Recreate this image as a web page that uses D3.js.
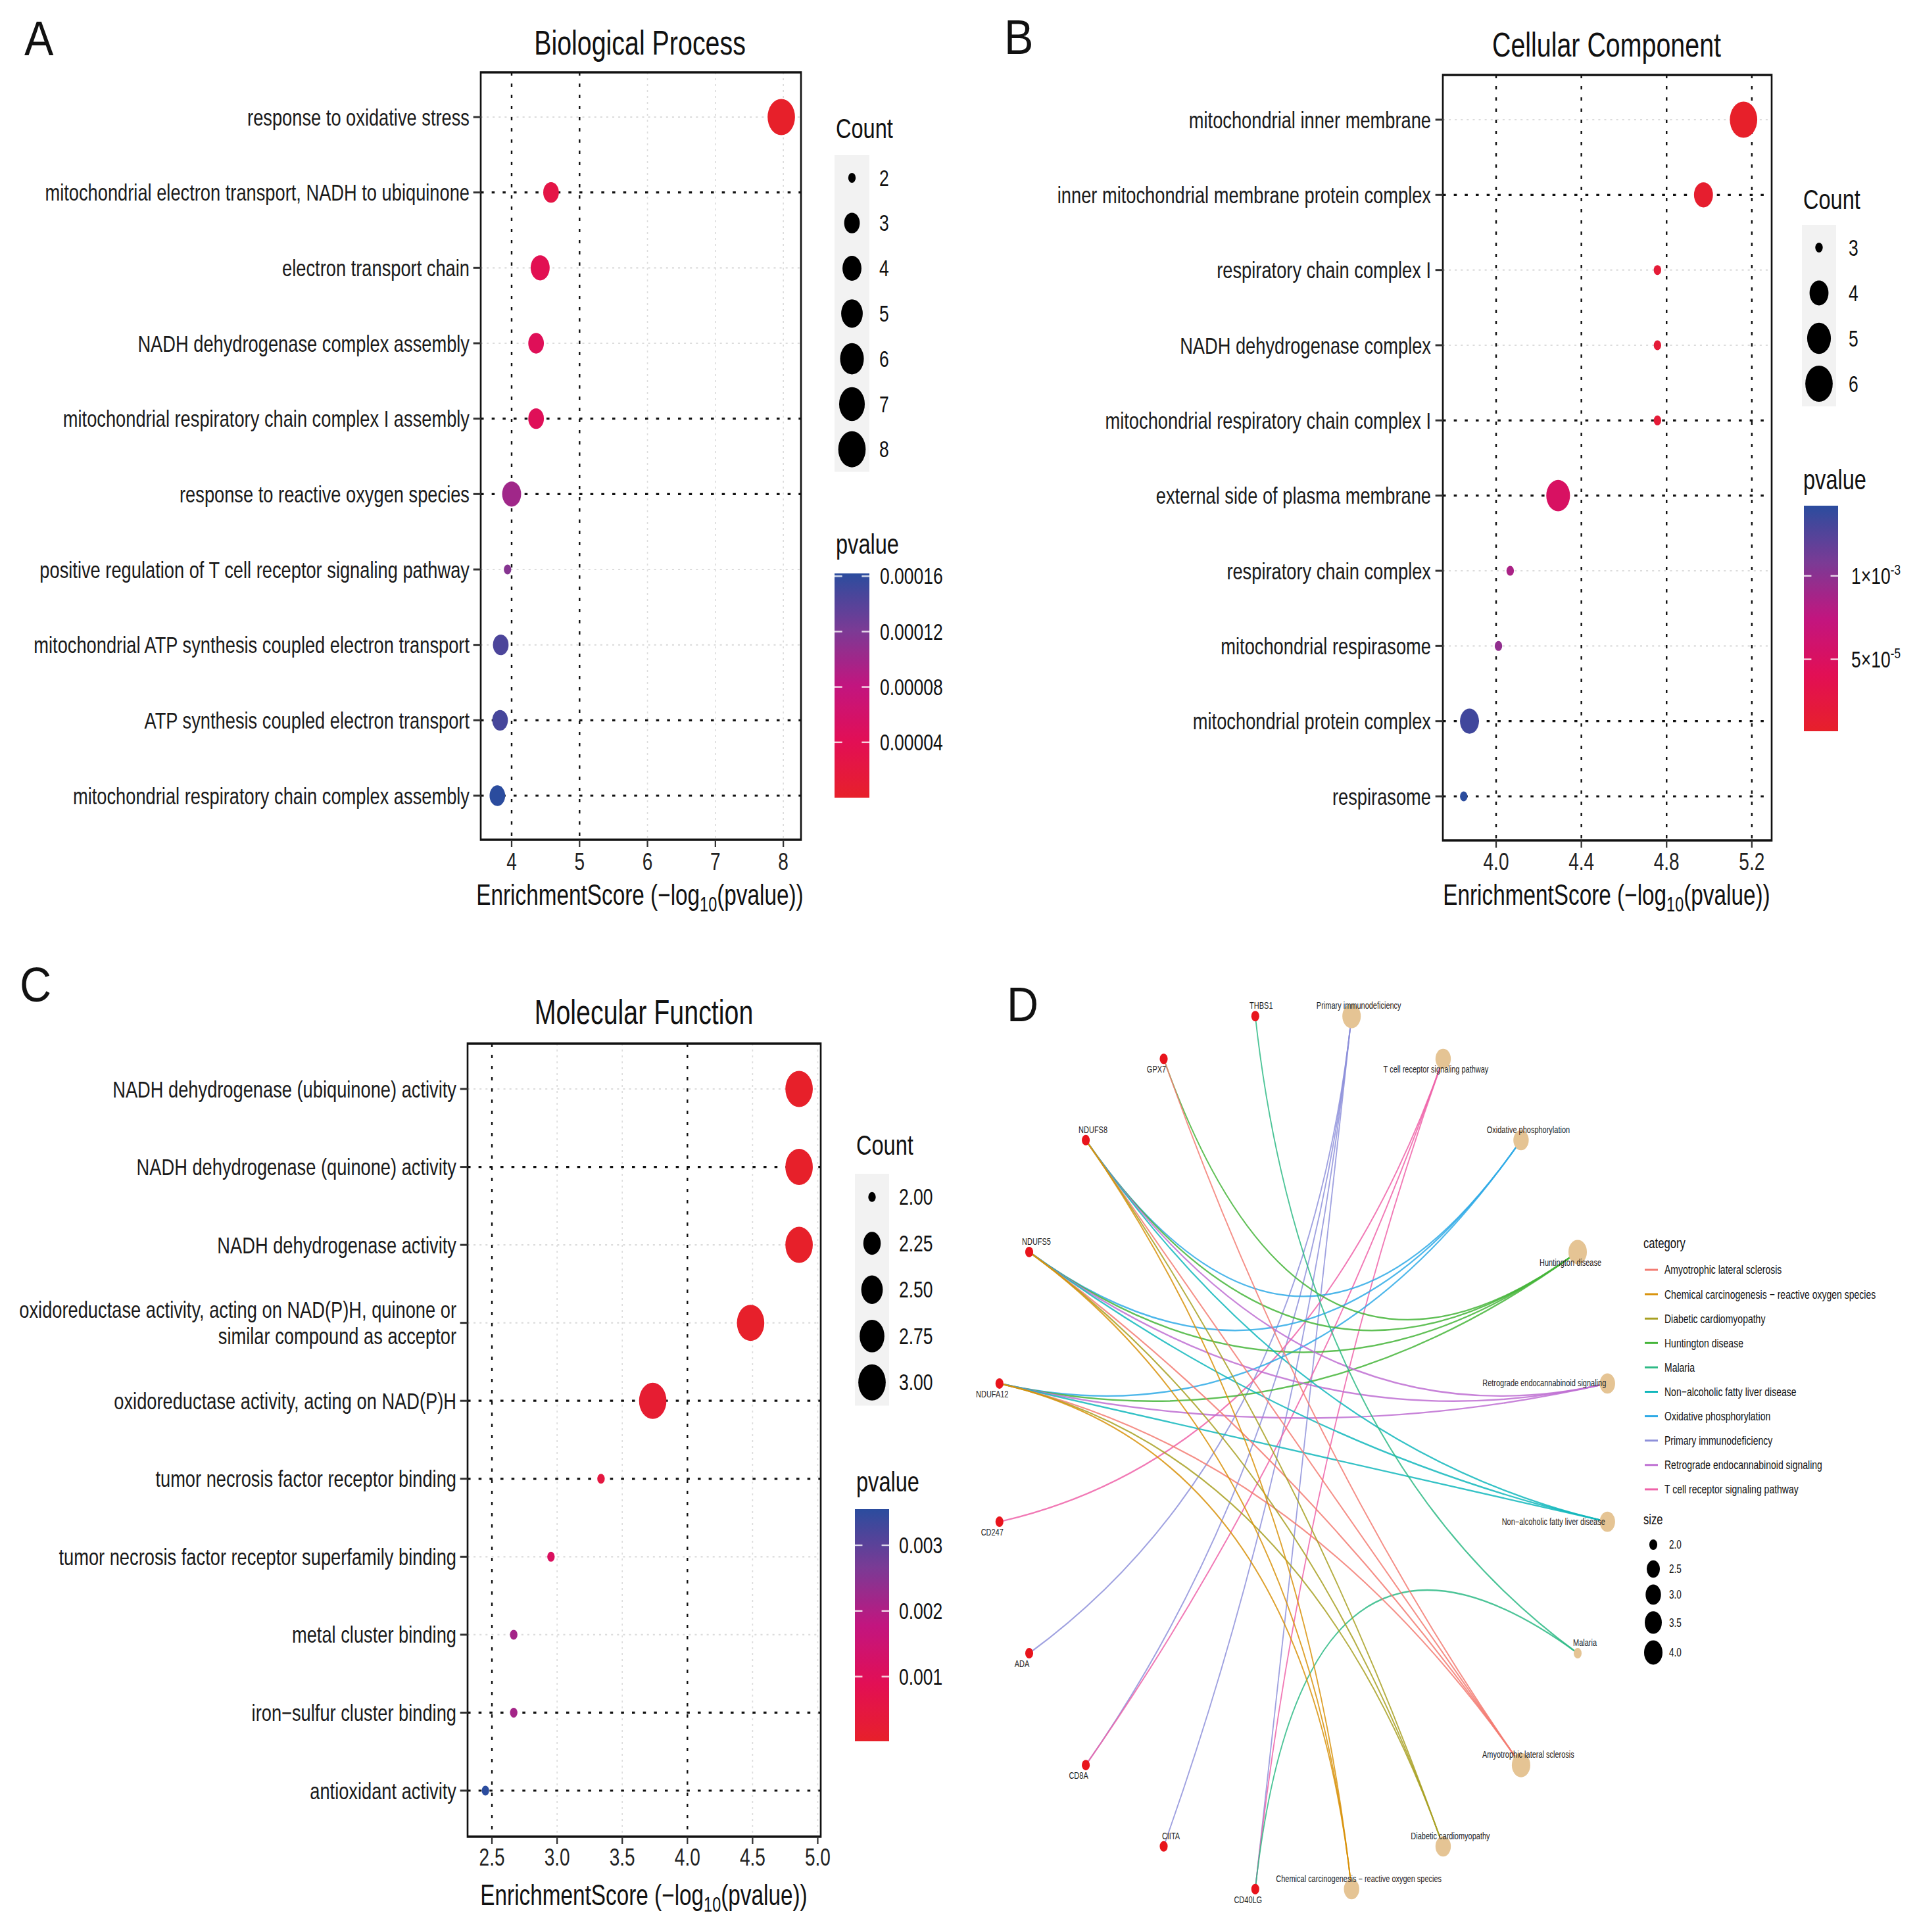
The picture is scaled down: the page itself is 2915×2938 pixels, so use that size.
<!DOCTYPE html>
<html><head><meta charset="utf-8">
<script src="https://cdn.jsdelivr.net/npm/d3@7"></script>
<style>html,body{margin:0;padding:0;background:#fff;} svg{display:block;}</style>
</head><body><div id="chart"></div>
<script>
// ---------------- DATA ----------------
const bpTerms = ["response to oxidative stress","mitochondrial electron transport, NADH to ubiquinone","electron transport chain","NADH dehydrogenase complex assembly","mitochondrial respiratory chain complex I assembly","response to reactive oxygen species","positive regulation of T cell receptor signaling pathway","mitochondrial ATP synthesis coupled electron transport","ATP synthesis coupled electron transport","mitochondrial respiratory chain complex assembly"];
const bpScore  = [7.97, 4.58, 4.42, 4.36, 4.36, 4.00, 3.94, 3.84, 3.83, 3.79];
const bpPvalue = [1.07e-8, 2.63e-5, 3.80e-5, 4.37e-5, 4.37e-5, 1.00e-4, 1.15e-4, 1.45e-4, 1.48e-4, 1.62e-4];
const bpCount  = [8, 3, 4, 3, 3, 4, 2, 3, 3, 3];
const bpXTicks = [4, 5, 6, 7, 8];
const bpCountBreaks = [2, 3, 4, 5, 6, 7, 8];
const bpPTicks = [0.00004, 0.00008, 0.00012, 0.00016];
const bpPLabels = ["0.00004", "0.00008", "0.00012", "0.00016"];

const ccTerms = ["mitochondrial inner membrane","inner mitochondrial membrane protein complex","respiratory chain complex I","NADH dehydrogenase complex","mitochondrial respiratory chain complex I","external side of plasma membrane","respiratory chain complex","mitochondrial respirasome","mitochondrial protein complex","respirasome"];
const ccScore  = [5.161, 4.973, 4.757, 4.757, 4.757, 4.291, 4.066, 4.011, 3.875, 3.848];
const ccPvalue = [6.9e-6, 1.06e-5, 1.75e-5, 1.75e-5, 1.75e-5, 5.12e-5, 8.59e-5, 9.75e-5, 1.33e-4, 1.42e-4];
const ccCount  = [6, 4, 3, 3, 3, 5, 3, 3, 4, 3];
const ccXTicks = [4.0, 4.4, 4.8, 5.2];
const ccCountBreaks = [3, 4, 5, 6];
const ccPTicks = [5e-5, 1e-4];
const ccPLabels = ["5×10^-5", "1×10^-3"];

const mfTerms = ["NADH dehydrogenase (ubiquinone) activity","NADH dehydrogenase (quinone) activity","NADH dehydrogenase activity","oxidoreductase activity, acting on NAD(P)H, quinone or\nsimilar compound as acceptor","oxidoreductase activity, acting on NAD(P)H","tumor necrosis factor receptor binding","tumor necrosis factor receptor superfamily binding","metal cluster binding","iron\u2212sulfur cluster binding","antioxidant activity"];
const mfScore  = [4.857, 4.857, 4.857, 4.485, 3.734, 3.337, 2.953, 2.667, 2.667, 2.450];
const mfPvalue = [1.39e-5, 1.39e-5, 1.39e-5, 3.27e-5, 1.85e-4, 4.60e-4, 1.11e-3, 2.15e-3, 2.15e-3, 3.55e-3];
const mfCount  = [3, 3, 3, 3, 3, 2, 2, 2, 2, 2];
const mfXTicks = [2.5, 3.0, 3.5, 4.0, 4.5, 5.0];
const mfCountBreaks = [2.00, 2.25, 2.50, 2.75, 3.00];
const mfPTicks = [0.001, 0.002, 0.003];
const mfPLabels = ["0.001", "0.002", "0.003"];

// network (panel D)
const pathways = ["Primary immunodeficiency","T cell receptor signaling pathway","Oxidative phosphorylation","Huntington disease","Retrograde endocannabinoid signaling","Non\u2212alcoholic fatty liver disease","Malaria","Amyotrophic lateral sclerosis","Diabetic cardiomyopathy","Chemical carcinogenesis \u2212 reactive oxygen species"];
const genes = ["CD40LG","CIITA","CD8A","ADA","CD247","NDUFA12","NDUFS5","NDUFS8","GPX7","THBS1"];
const pathwayGenes = [
  ["ADA","CD8A","CIITA","CD40LG"],
  ["CD247","CD8A","CD40LG"],
  ["NDUFS8","NDUFS5","NDUFA12"],
  ["NDUFS8","NDUFS5","NDUFA12","GPX7"],
  ["NDUFS8","NDUFS5","NDUFA12"],
  ["NDUFS8","NDUFS5","NDUFA12"],
  ["THBS1","CD40LG"],
  ["NDUFS8","NDUFS5","NDUFA12","GPX7"],
  ["NDUFS8","NDUFS5","NDUFA12"],
  ["NDUFS8","NDUFS5","NDUFA12"]
];
const legendCategories = ["Amyotrophic lateral sclerosis","Chemical carcinogenesis \u2212 reactive oxygen species","Diabetic cardiomyopathy","Huntington disease","Malaria","Non\u2212alcoholic fatty liver disease","Oxidative phosphorylation","Primary immunodeficiency","Retrograde endocannabinoid signaling","T cell receptor signaling pathway"];
const sizeBreaks = [2.0, 2.5, 3.0, 3.5, 4.0];

// ---------------- STYLE / LAYOUT ----------------
const W = 2915, H = 2938, K = 1.32;
const X = v => v * K;
const FONT = "'Liberation Sans', Arial, Helvetica, sans-serif";
const pInterp = d3.piecewise(d3.interpolateRgb, ["#E7202A", "#E20F55", "#C2157F", "#7A3B95", "#2B4C9E"]);
const hue = ["#F37B72","#D8920A","#A8A022","#45B53A","#2DBA85","#12B7BC","#2FAAE6","#8E90DA","#BE6FD2","#EE62A8"];
const catColor = d3.scaleOrdinal().domain(legendCategories).range(hue);
const D_MIN = 15, D_MAX = 55;

const svg = d3.select("#chart").append("svg")
  .attr("width", W).attr("height", H)
  .attr("viewBox", `0 0 ${W * K} ${H}`)
  .attr("preserveAspectRatio", "none")
  .style("font-family", FONT);
svg.append("rect").attr("width", W * K).attr("height", H).attr("fill", "#fff");
const defs = svg.append("defs");

function panelLetter(t, x, y) {
  svg.append("text").text(t)
    .attr("transform", `translate(${X(x)},${y}) scale(${K * 0.9},1)`)
    .attr("font-size", 74).attr("fill", "#111");
}

function addLabelWithSup(sel, str) {
  const parts = str.split("^");
  sel.append("tspan").text(parts[0]);
  if (parts[1]) sel.append("tspan").text(parts[1]).attr("font-size", "65%").attr("dy", "-0.6em");
}

let gradId = 0;
function dotPanel(o) {
  const g = svg.append("g");
  const [bx0, bx1, by0, by1] = o.box;
  const x = d3.scaleLinear().domain(o.xDomain).range([X(bx0), X(bx1)]);
  const y = d3.scalePoint().domain(o.terms).range([o.rows[0], o.rows[1]]);
  const pmin = d3.min(o.pvalue), pmax = d3.max(o.pvalue);
  const color = d3.scaleSequential(pInterp).domain([pmin, pmax]);
  const cmin = d3.min(o.count), cmax = d3.max(o.count);
  const dsc = d3.scaleSqrt().domain([0, cmax - cmin]).range([0, D_MAX - D_MIN]);
  const dia = c => D_MIN + dsc(c - cmin);

  const isDarkV = t => o.darkTicks.includes(t);
  const isDarkH = i => o.darkRows.includes(i);
  const drawV = (dark) => g.append("g").selectAll("line").data(o.xTicks.filter(t => isDarkV(t) === dark)).join("line")
    .attr("x1", d => x(d)).attr("x2", d => x(d)).attr("y1", by0).attr("y2", by1)
    .attr("stroke", dark ? "#111" : "#DCDCDC").attr("stroke-width", dark ? 3.2 : 2.2)
    .attr("stroke-dasharray", dark ? "5,12" : "3,6");
  const drawH = (dark) => g.append("g").selectAll("line").data(o.terms.filter((t, i) => isDarkH(i) === dark)).join("line")
    .attr("x1", X(bx0)).attr("x2", X(bx1)).attr("y1", d => y(d)).attr("y2", d => y(d))
    .attr("stroke", dark ? "#111" : "#DCDCDC").attr("stroke-width", dark ? 3.2 : 2.2)
    .attr("stroke-dasharray", dark ? "6,16" : "4,8");
  drawV(false); drawH(false); drawV(true); drawH(true);

  g.append("g").selectAll("circle").data(o.terms).join("circle")
    .attr("cx", (d, i) => x(o.score[i])).attr("cy", d => y(d))
    .attr("r", (d, i) => dia(o.count[i]) / 2)
    .attr("fill", (d, i) => color(o.pvalue[i]));

  g.append("rect").attr("x", X(bx0)).attr("y", by0).attr("width", X(bx1) - X(bx0)).attr("height", by1 - by0)
    .attr("fill", "none").attr("stroke", "#111").attr("stroke-width", 3.5);

  g.append("g").selectAll("line").data(o.terms).join("line")
    .attr("x1", X(bx0) - 15).attr("x2", X(bx0)).attr("y1", d => y(d)).attr("y2", d => y(d))
    .attr("stroke", "#333").attr("stroke-width", 3);
  const lab = g.append("g").selectAll("text").data(o.terms).join("text")
    .attr("x", X(o.labelX)).attr("y", d => y(d))
    .attr("text-anchor", "end").attr("font-size", 36).attr("fill", "#1a1a1a");
  lab.each(function (d) {
    const lines = d.split("\n");
    const t = d3.select(this);
    lines.forEach((ln, j) => {
      t.append("tspan").attr("x", X(o.labelX))
        .attr("dy", j === 0 ? `${0.35 - (lines.length - 1) * 0.55}em` : "1.1em").text(ln);
    });
  });

  g.append("g").selectAll("line").data(o.xTicks).join("line")
    .attr("x1", d => x(d)).attr("x2", d => x(d)).attr("y1", by1).attr("y2", by1 + 11)
    .attr("stroke", "#333").attr("stroke-width", 3);
  g.append("g").selectAll("text").data(o.xTicks).join("text")
    .attr("x", d => x(d)).attr("y", o.tickY).attr("dy", "0.35em")
    .attr("text-anchor", "middle").attr("font-size", 37).attr("fill", "#222")
    .text(d => o.tickFmt(d));

  g.append("text").attr("x", X(o.titleX)).attr("y", o.titleY).attr("text-anchor", "middle")
    .attr("font-size", 52).attr("fill", "#111").text(o.title);
  const at = g.append("text").attr("x", X(o.titleX)).attr("y", o.axisTitleY).attr("text-anchor", "middle")
    .attr("font-size", 44).attr("fill", "#111");
  at.append("tspan").text("EnrichmentScore (\u2212log");
  at.append("tspan").text("10").attr("font-size", 31).attr("dy", 10);
  at.append("tspan").text("(pvalue))").attr("dy", -10);

  const L = o.legend;
  g.append("text").attr("x", X(L.x0 + 2)).attr("y", L.countTitleY).attr("font-size", 43).attr("fill", "#111").text("Count");
  const nK = o.countBreaks.length;
  g.append("rect").attr("x", X(L.x0)).attr("y", L.keyTop).attr("width", X(L.x1) - X(L.x0)).attr("height", L.keyH * nK)
    .attr("fill", "#F2F2F2");
  const ldsc = d3.scaleSqrt().domain([0, d3.max(o.countBreaks) - d3.min(o.countBreaks)]).range([0, D_MAX - D_MIN]);
  g.append("g").selectAll("circle").data(o.countBreaks).join("circle")
    .attr("cx", (X(L.x0) + X(L.x1)) / 2).attr("cy", (d, i) => L.keyTop + L.keyH * (i + 0.5))
    .attr("r", d => (D_MIN + ldsc(d - d3.min(o.countBreaks))) / 2).attr("fill", "#000");
  g.append("g").selectAll("text").data(o.countBreaks).join("text")
    .attr("x", X(L.labX)).attr("y", (d, i) => L.keyTop + L.keyH * (i + 0.5)).attr("dy", "0.35em")
    .attr("font-size", 35).attr("fill", "#111").text(d => o.countFmt(d));

  g.append("text").attr("x", X(L.x0 + 2)).attr("y", L.pTitleY).attr("font-size", 43).attr("fill", "#111").text("pvalue");
  const id = "grad" + (gradId++);
  const lg = defs.append("linearGradient").attr("id", id).attr("x1", 0).attr("x2", 0).attr("y1", 1).attr("y2", 0);
  d3.range(0, 1.0001, 0.05).forEach(t => lg.append("stop").attr("offset", t).attr("stop-color", pInterp(t)));
  const by = d3.scaleLinear().domain([pmin, pmax]).range(L.barY);
  g.append("rect").attr("x", X(L.bx0)).attr("y", L.barY[1]).attr("width", X(L.bx1) - X(L.bx0))
    .attr("height", L.barY[0] - L.barY[1]).attr("fill", `url(#${id})`);
  const bw = X(L.bx1) - X(L.bx0);
  o.pTicks.forEach((p, i) => {
    const yy = by(p);
    g.append("line").attr("x1", X(L.bx0)).attr("x2", X(L.bx0) + bw * 0.22).attr("y1", yy).attr("y2", yy)
      .attr("stroke", "#fff").attr("stroke-opacity", 0.8).attr("stroke-width", 2.5);
    g.append("line").attr("x1", X(L.bx1) - bw * 0.22).attr("x2", X(L.bx1)).attr("y1", yy).attr("y2", yy)
      .attr("stroke", "#fff").attr("stroke-opacity", 0.8).attr("stroke-width", 2.5);
    const t = g.append("text").attr("x", X(L.pLabX)).attr("y", yy).attr("dy", "0.35em")
      .attr("font-size", 35).attr("fill", "#111");
    addLabelWithSup(t, o.pLabels[i]);
  });
}

panelLetter("A", 37, 84);
dotPanel({
  terms: bpTerms, score: bpScore, pvalue: bpPvalue, count: bpCount,
  xTicks: bpXTicks, xDomain: [3.545, 8.26], tickFmt: d3.format("d"),
  box: [731, 1218, 110, 1277], rows: [178, 1210], labelX: 714, tickY: 1310,
  darkTicks: [4, 5], darkRows: [1, 4, 5, 8, 9],
  title: "Biological Process", titleX: 973, titleY: 83, axisTitleY: 1376,
  countBreaks: bpCountBreaks, countFmt: d3.format("d"),
  pTicks: bpPTicks, pLabels: bpPLabels,
  legend: { x0: 1269, x1: 1322, labX: 1337, countTitleY: 210, keyTop: 236, keyH: 68.8,
            pTitleY: 842, bx0: 1269, bx1: 1322, barY: [1213, 872], pLabX: 1338 }
});

panelLetter("B", 1527, 82);
dotPanel({
  terms: ccTerms, score: ccScore, pvalue: ccPvalue, count: ccCount,
  xTicks: ccXTicks, xDomain: [3.75, 5.293], tickFmt: d3.format(".1f"),
  box: [2194, 2694, 114, 1278], rows: [182, 1211], labelX: 2176, tickY: 1310,
  darkTicks: [4.0, 4.4, 4.8, 5.2], darkRows: [1, 4, 5, 8, 9],
  title: "Cellular Component", titleX: 2443, titleY: 86, axisTitleY: 1376,
  countBreaks: ccCountBreaks, countFmt: d3.format("d"),
  pTicks: ccPTicks, pLabels: ccPLabels,
  legend: { x0: 2740, x1: 2792, labX: 2811, countTitleY: 318, keyTop: 342, keyH: 69,
            pTitleY: 744, bx0: 2743, bx1: 2795, barY: [1112, 769], pLabX: 2815 }
});

panelLetter("C", 30, 1523);
dotPanel({
  terms: mfTerms, score: mfScore, pvalue: mfPvalue, count: mfCount,
  xTicks: mfXTicks, xDomain: [2.313, 5.023], tickFmt: d3.format(".1f"),
  box: [711, 1248, 1587, 2793], rows: [1656, 2723], labelX: 694, tickY: 2824,
  darkTicks: [2.5, 4.0], darkRows: [1, 4, 5, 8, 9],
  title: "Molecular Function", titleX: 979, titleY: 1557, axisTitleY: 2897,
  countBreaks: mfCountBreaks, countFmt: d3.format(".2f"),
  pTicks: mfPTicks, pLabels: mfPLabels,
  legend: { x0: 1300, x1: 1352, labX: 1367, countTitleY: 1756, keyTop: 1785, keyH: 70.5,
            pTitleY: 2268, bx0: 1300, bx1: 1352, barY: [2648, 2295], pLabX: 1367 }
});

// ---------------- Panel D: network ----------------
panelLetter("D", 1531, 1553);
(function () {
  const g = svg.append("g");
  const cx = X(1982), cy = 2209, rx = X(468), ry = 672;
  const nodes = pathways.map((p, i) => ({ name: p, type: "cat", size: pathwayGenes[i].length }))
    .concat(genes.map(gn => ({ name: gn, type: "gene" })));
  const ang = d3.scaleLinear().domain([0, nodes.length]).range([0, 2 * Math.PI]);
  nodes.forEach((n, i) => { const a = ang(i + 0.5); n.x = cx + rx * Math.sin(a); n.y = cy - ry * Math.cos(a); });
  const byName = new Map(nodes.map(n => [n.name, n]));
  const edges = [];
  pathways.forEach((p, i) => pathwayGenes[i].forEach(gn => edges.push({ cat: p, s: byName.get(p), t: byName.get(gn) })));

  g.append("g").selectAll("path").data(edges).join("path")
    .attr("d", e => { const pth = d3.path(); pth.moveTo(e.t.x, e.t.y); pth.quadraticCurveTo(cx, cy, e.s.x, e.s.y); return pth.toString(); })
    .attr("fill", "none").attr("stroke", e => catColor(e.cat)).attr("stroke-opacity", 0.85).attr("stroke-width", 2.4);

  const ns = d3.scaleSqrt().domain([0, 2]).range([0, 21]);
  const nd = s => 16 + ns(s - 2);
  g.append("g").selectAll("circle").data(nodes).join("circle")
    .attr("cx", n => n.x).attr("cy", n => n.y)
    .attr("r", n => n.type === "gene" ? 8 : nd(n.size) / 2)
    .attr("fill", n => n.type === "gene" ? "#E8141C" : "#E5C494");

  const labelOffset = {
    "THBS1": [9, -16], "GPX7": [-11, 16], "NDUFS8": [11, -16], "NDUFS5": [11, -16], "NDUFA12": [-11, 16],
    "CD247": [-11, 16], "ADA": [-11, 16], "CD8A": [-11, 16], "CIITA": [11, -16], "CD40LG": [-11, 16],
    "Primary immunodeficiency": [11, -16], "T cell receptor signaling pathway": [-11, 16],
    "Oxidative phosphorylation": [11, -16], "Huntington disease": [-11, 16],
    "Retrograde endocannabinoid signaling": [-96, -1], "Non\u2212alcoholic fatty liver disease": [-82, 0],
    "Malaria": [11, -16], "Amyotrophic lateral sclerosis": [11, -16], "Diabetic cardiomyopathy": [11, -16],
    "Chemical carcinogenesis \u2212 reactive oxygen species": [11, -16]
  };
  g.append("g").selectAll("text").data(nodes).join("text")
    .attr("x", n => n.x + X(labelOffset[n.name][0])).attr("y", n => n.y + labelOffset[n.name][1])
    .attr("dy", "0.35em").attr("text-anchor", "middle").attr("font-size", 14.5).attr("fill", "#222")
    .text(n => n.name);

  const lx0 = 2501, lx1 = 2521, ltx = 2531;
  g.append("text").attr("x", X(2499)).attr("y", 1898).attr("font-size", 22).attr("fill", "#111").text("category");
  const ly = d3.scaleLinear().domain([0, 1]).range([1931, 1931 + 37.1]);
  g.append("g").selectAll("line").data(legendCategories).join("line")
    .attr("x1", X(lx0)).attr("x2", X(lx1)).attr("y1", (d, i) => ly(i)).attr("y2", (d, i) => ly(i))
    .attr("stroke", d => catColor(d)).attr("stroke-width", 3);
  g.append("g").selectAll("text").data(legendCategories).join("text")
    .attr("x", X(ltx)).attr("y", (d, i) => ly(i)).attr("dy", "0.35em").attr("font-size", 18.5).attr("fill", "#111")
    .text(d => d);

  g.append("text").attr("x", X(2499)).attr("y", 2318).attr("font-size", 22).attr("fill", "#111").text("size");
  const keyH = sizeBreaks.map(s => Math.max(37, nd(s) + 10));
  let yy = 2349 - keyH[0] / 2;
  const ys = keyH.map(h => { const c = yy + h / 2; yy += h; return c; });
  g.append("g").selectAll("circle").data(sizeBreaks).join("circle")
    .attr("cx", X(2514)).attr("cy", (d, i) => ys[i]).attr("r", d => nd(d) / 2).attr("fill", "#000");
  g.append("g").selectAll("text").data(sizeBreaks).join("text")
    .attr("x", X(2538)).attr("y", (d, i) => ys[i]).attr("dy", "0.35em").attr("font-size", 18).attr("fill", "#111")
    .text(d => d3.format(".1f")(d));
})();
</script>
</body></html>
